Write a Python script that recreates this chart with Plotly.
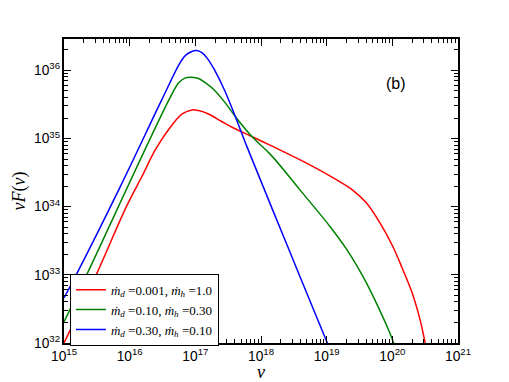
import numpy as np
import plotly.graph_objects as go

# log10(nu), log10(nu F_nu)
blue_lognu = [15.0, 15.17, 15.85, 16.49, 16.76, 16.85, 16.93, 17.02, 17.10, 17.18, 17.29, 17.44, 17.61, 17.79, 18.40, 19.01, 19.10]
blue_logf = [32.66, 32.97, 34.28, 35.57, 36.10, 36.22, 36.27, 36.29, 36.26, 36.18, 36.01, 35.72, 35.32, 34.87, 33.43, 32.0, 31.8]

green_lognu = [15.0, 15.33, 16.60, 16.75, 16.85, 16.95, 17.05, 17.15, 17.28, 17.45, 17.61, 17.88, 18.15, 18.59, 19.05, 19.30, 19.55, 19.75, 19.93, 20.02, 20.05]
green_logf = [32.31, 32.97, 35.57, 35.82, 35.89, 35.90, 35.88, 35.82, 35.72, 35.53, 35.32, 35.01, 34.76, 34.25, 33.71, 33.38, 32.98, 32.60, 32.22, 32.0, 31.9]

red_lognu = [14.98, 15.49, 15.95, 16.19, 16.40, 16.63, 16.80, 16.95, 17.05, 17.20, 17.40, 17.59, 17.88, 18.12, 18.73, 19.14, 19.40, 19.60, 19.80, 20.00, 20.15, 20.30, 20.42, 20.50, 20.52]
red_logf = [31.96, 33.0, 34.0, 34.45, 34.85, 35.18, 35.36, 35.42, 35.41, 35.36, 35.25, 35.15, 35.02, 34.91, 34.62, 34.40, 34.24, 34.06, 33.78, 33.43, 33.10, 32.74, 32.35, 32.0, 31.9]

labels = [
    "<i>ṁ</i><sub><i>d</i></sub> =0.001, <i>ṁ</i><sub><i>h</i></sub> =1.0",
    "<i>ṁ</i><sub><i>d</i></sub> =0.10, <i>ṁ</i><sub><i>h</i></sub> =0.30",
    "<i>ṁ</i><sub><i>d</i></sub> =0.30, <i>ṁ</i><sub><i>h</i></sub> =0.10",
]
colors = ["#ff0000", "#008000", "#0000ff"]

series = [(red_lognu, red_logf), (green_lognu, green_logf), (blue_lognu, blue_logf)]

fig = go.Figure()
for (lx, ly), name, c in zip(series, labels, colors):
    fig.add_trace(go.Scatter(
        x=10 ** np.array(lx), y=10 ** np.array(ly), mode="lines", name=name,
        line=dict(color=c, width=1.5, shape="spline", smoothing=1.0),
    ))

axis_common = dict(
    type="log", dtick=1, exponentformat="power", showgrid=False, zeroline=False,
    ticks="inside", ticklen=7, tickwidth=1.2, tickcolor="black",
    showline=True, linecolor="black", linewidth=1.5, mirror="allticks",
    minor=dict(ticks="inside", ticklen=4, tickwidth=1, tickcolor="black", dtick="D1", showgrid=False),
    tickfont=dict(family="Liberation Sans, Arial", size=11, color="black"),
    automargin=False,
)

# page body adds an 8px offset, so margins are 8px smaller than the target pixels
fig.update_layout(
    width=501, height=374,
    margin=dict(l=56, r=51, t=31, b=39),
    plot_bgcolor="white", paper_bgcolor="white",
    xaxis=dict(axis_common, range=[15, 21],
               title=dict(text="<i>ν</i>", font=dict(family="Liberation Serif", size=18, color="black"), standoff=2)),
    yaxis=dict(axis_common, range=[32, 36.46],
               title=dict(text="<i>νF</i>(<i>ν</i>)", font=dict(family="Liberation Serif", size=18, color="black"), standoff=4)),
    legend=dict(x=0.015, y=0.228, xanchor="left", yanchor="top",
                bordercolor="black", borderwidth=1, bgcolor="white",
                font=dict(family="Liberation Serif", size=13, color="black"),
                tracegroupgap=0, itemwidth=30),
    showlegend=True,
    annotations=[dict(text="(b)", x=0.873, y=0.888, xref="paper", yref="paper",
                      showarrow=False, font=dict(family="Liberation Sans, Arial", size=16, color="black"))],
)

fig.write_html("out.html")
